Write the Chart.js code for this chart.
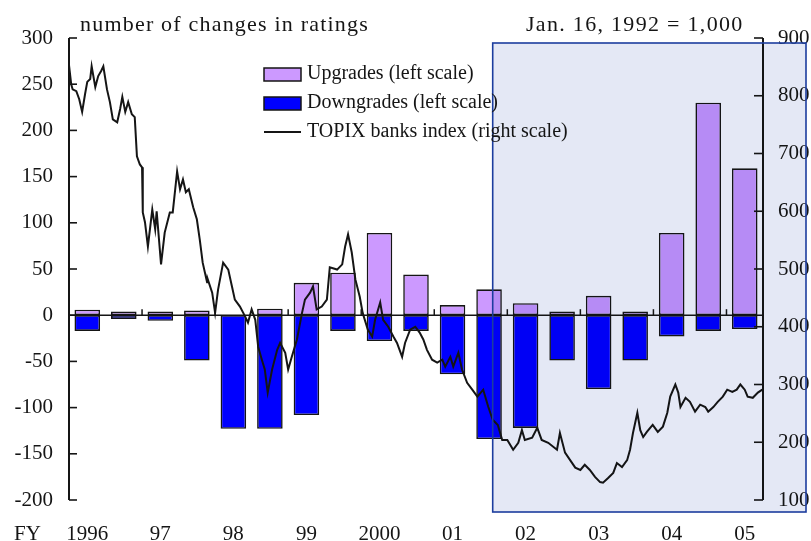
<!DOCTYPE html>
<html>
<head>
<meta charset="utf-8">
<script src="https://cdn.jsdelivr.net/npm/chart.js@4.4.1/dist/chart.umd.min.js"></script>
<style>
  html, body { margin: 0; padding: 0; background: #fff; }
  #wrap { width: 811px; height: 541px; }
</style>
</head>
<body>
<div id="wrap"><canvas id="ratingsChart" width="811" height="541"></canvas></div>
<script>
// half-year periods, FY1996 H1 .. FY2005 H1
const periods = ['1996', '', '97', '', '98', '', '99', '', '2000', '', '01', '', '02', '', '03', '', '04', '', '05'];
const upgrades = [6, 4, 4, 5, 0, 7, 35, 46, 89, 44, 11, 28, 13, 4, 21, 4, 89, 230, 159];
const downgrades = [-17, -4, -6, -49, -123, -123, -108, -17, -28, -17, -64, -134, -122, -49, -80, -49, -23, -17, -15];

// TOPIX banks index (Jan. 16, 1992 = 1,000)
const topixFY = [
  1996.00, 1996.03, 1996.05, 1996.10, 1996.14, 1996.18, 1996.22, 1996.25, 1996.29, 1996.31,
  1996.36, 1996.40, 1996.44, 1996.47, 1996.52, 1996.56, 1996.60, 1996.66, 1996.70, 1996.73,
  1996.77, 1996.81, 1996.86, 1996.90, 1996.93, 1996.97, 1997.00, 1997.01, 1997.04, 1997.08,
  1997.14, 1997.18, 1997.20, 1997.26, 1997.31, 1997.38, 1997.42, 1997.48, 1997.52, 1997.56,
  1997.60, 1997.64, 1997.70, 1997.75, 1997.79, 1997.83, 1997.89, 1997.90, 1997.96, 1998.00,
  1998.04, 1998.11, 1998.18, 1998.23, 1998.27, 1998.34, 1998.41, 1998.45, 1998.50, 1998.55,
  1998.59, 1998.64, 1998.68, 1998.72, 1998.78, 1998.85, 1998.89, 1998.96, 1999.00, 1999.05,
  1999.12, 1999.19, 1999.23, 1999.30, 1999.34, 1999.39, 1999.46, 1999.53, 1999.57, 1999.67,
  1999.74, 1999.78, 1999.82, 1999.87, 1999.92, 1999.98, 2000.02, 2000.09, 2000.15, 2000.19,
  2000.26, 2000.30, 2000.37, 2000.44, 2000.49, 2000.56, 2000.60, 2000.67, 2000.74, 2000.80,
  2000.85, 2000.90, 2000.97, 2001.04, 2001.11, 2001.15, 2001.22, 2001.26, 2001.33, 2001.38,
  2001.45, 2001.52, 2001.59, 2001.67, 2001.74, 2001.80, 2001.87, 2001.93, 2002.00, 2002.08,
  2002.15, 2002.20, 2002.24, 2002.34, 2002.41, 2002.47, 2002.56, 2002.68, 2002.72, 2002.79,
  2002.86, 2002.93, 2003.00, 2003.06, 2003.13, 2003.20, 2003.27, 2003.31, 2003.38, 2003.45,
  2003.50, 2003.57, 2003.64, 2003.68, 2003.72, 2003.78, 2003.82, 2003.86, 2003.91, 2003.99,
  2004.06, 2004.13, 2004.19, 2004.23, 2004.30, 2004.34, 2004.37, 2004.44, 2004.50, 2004.57,
  2004.64, 2004.71, 2004.75, 2004.82, 2004.88, 2004.95, 2005.01, 2005.08, 2005.14, 2005.19,
  2005.25, 2005.29, 2005.36, 2005.43, 2005.49
];
const topixIndex = [
  853, 820, 811, 808, 794, 772, 803, 824, 829, 851,
  815, 834, 843, 851, 811, 789, 759, 754, 777, 798,
  772, 789, 768, 763, 695, 681, 676, 598, 581, 539,
  603, 569, 600, 508, 563, 598, 598, 669, 638, 655,
  633, 638, 607, 586, 551, 511, 477, 482, 459, 424,
  464, 511, 499, 470, 447, 435, 418, 407, 430, 412,
  365, 343, 326, 286, 326, 360, 372, 355, 326, 348,
  378, 424, 447, 459, 470, 430, 435, 447, 503, 499,
  508, 539, 560, 529, 482, 452, 424, 395, 383, 412,
  442, 412, 400, 383, 372, 348, 372, 395, 400, 390,
  378, 360, 343, 338, 343, 331, 348, 331, 355, 326,
  303, 291, 279, 291, 261, 239, 230, 204, 204, 187,
  199, 221, 204, 208, 225, 204, 199, 187, 216, 182,
  169, 156, 152, 161, 152, 140, 131, 130, 138, 147,
  164, 157, 169, 187, 216, 251, 221, 209, 218, 230,
  218, 227, 251, 279, 300, 286, 261, 277, 270, 253,
  265, 261, 253, 261, 270, 279, 291, 287, 291, 300,
  291, 279, 277, 286, 291
];

const leftTicks = { min: -200, max: 300, step: 50 };
const rightTicks = { min: 100, max: 900, step: 100 };
const shadeFrom = 2001.8;

const serif = '"Liberation Serif", "Times New Roman", serif';
const ink = '#151515';
const upColor = '#cc99ff';
const downColor = '#0000ff';

const decor = {
  id: 'decor',
  beforeDraw(chart) {
    const ctx = chart.ctx;
    ctx.save();
    ctx.fillStyle = '#fff';
    ctx.fillRect(0, 0, chart.width, chart.height);
    ctx.restore();
  },
  afterDatasetsDraw(chart) {
    const { ctx, chartArea: a, scales } = chart;
    const x = scales.x, y = scales.y, yr = scales.yr, xl = scales.xl;
    ctx.save();
    ctx.strokeStyle = ink;

    // zero line
    const y0 = y.getPixelForValue(0);
    ctx.lineWidth = 1.6;
    ctx.beginPath();
    ctx.moveTo(a.left, y0);
    ctx.lineTo(a.right, y0);
    ctx.stroke();

    // fiscal year boundary ticks on the zero line
    ctx.lineWidth = 1.5;
    for (let i = 1; i < periods.length - 1; i += 2) {
      const px = (x.getPixelForValue(i) + x.getPixelForValue(i + 1)) / 2;
      ctx.beginPath();
      ctx.moveTo(px, y0);
      ctx.lineTo(px, y0 - 6);
      ctx.stroke();
    }

    // axes with inward ticks
    ctx.lineWidth = 2;
    ctx.beginPath();
    ctx.moveTo(a.left, y.getPixelForValue(leftTicks.max));
    ctx.lineTo(a.left, y.getPixelForValue(leftTicks.min));
    ctx.moveTo(a.right, yr.getPixelForValue(rightTicks.max));
    ctx.lineTo(a.right, yr.getPixelForValue(rightTicks.min));
    ctx.stroke();
    ctx.lineWidth = 1.6;
    y.ticks.forEach(t => {
      const py = y.getPixelForValue(t.value);
      ctx.beginPath();
      ctx.moveTo(a.left, py);
      ctx.lineTo(a.left + 8, py);
      ctx.stroke();
    });
    yr.ticks.forEach(t => {
      const py = yr.getPixelForValue(t.value);
      ctx.beginPath();
      ctx.moveTo(a.right, py);
      ctx.lineTo(a.right - 9, py);
      ctx.stroke();
    });

    // shaded period (multiplied over everything beneath)
    const bx = xl.getPixelForValue(shadeFrom);
    const bt = a.top + 5, bb = a.bottom + 12, br = a.right + 43;
    ctx.globalCompositeOperation = 'multiply';
    ctx.fillStyle = '#e4e8f5';
    ctx.fillRect(bx, bt, br - bx, bb - bt);
    ctx.globalCompositeOperation = 'source-over';
    ctx.strokeStyle = '#1c3d9e';
    ctx.lineWidth = 1.6;
    ctx.strokeRect(bx, bt, br - bx, bb - bt);

    // captions
    ctx.fillStyle = ink;
    ctx.font = '22px ' + serif;
    ctx.textBaseline = 'alphabetic';
    ctx.textAlign = 'left';
    ctx.letterSpacing = '1.2px';
    ctx.fillText('number of changes in ratings', 80, 31);
    ctx.letterSpacing = '1.3px';
    ctx.fillText('Jan. 16, 1992 = 1,000', 526, 31);
    ctx.letterSpacing = '0px';
    ctx.font = '21px ' + serif;
    ctx.fillText('FY', 14, 540);

    // legend
    const ds = chart.data.datasets;
    const lx = 264, rows = [74, 103, 132];
    ctx.font = '20px ' + serif;
    ctx.textBaseline = 'middle';
    ds.forEach((d, i) => {
      const ly = rows[i];
      ctx.strokeStyle = ink;
      if (d.type === 'line') {
        ctx.lineWidth = 1.8;
        ctx.beginPath();
        ctx.moveTo(lx, ly);
        ctx.lineTo(lx + 37, ly);
        ctx.stroke();
      } else {
        ctx.fillStyle = d.backgroundColor;
        ctx.fillRect(lx, ly - 6, 37, 13);
        ctx.lineWidth = 1.5;
        ctx.strokeRect(lx, ly - 6, 37, 13);
      }
      ctx.fillStyle = ink;
      ctx.fillText(d.label, lx + 43, ly);
    });
    ctx.restore();
  }
};

new Chart(document.getElementById('ratingsChart').getContext('2d'), {
  type: 'bar',
  data: {
    labels: periods,
    datasets: [
      {
        type: 'bar',
        label: 'Upgrades (left scale)',
        data: upgrades,
        backgroundColor: upColor,
        borderColor: ink,
        borderWidth: 1.6,
        borderSkipped: false,
        grouped: false,
        barPercentage: 0.7,
        categoryPercentage: 1,
        yAxisID: 'y',
        order: 2
      },
      {
        type: 'bar',
        label: 'Downgrades (left scale)',
        data: downgrades,
        backgroundColor: downColor,
        borderColor: ink,
        borderWidth: 1.6,
        borderSkipped: false,
        grouped: false,
        barPercentage: 0.7,
        categoryPercentage: 1,
        yAxisID: 'y',
        order: 2
      },
      {
        type: 'line',
        label: 'TOPIX banks index (right scale)',
        data: topixFY.map((fy, i) => ({ x: fy, y: topixIndex[i] })),
        xAxisID: 'xl',
        yAxisID: 'yr',
        borderColor: ink,
        borderWidth: 2,
        pointRadius: 0,
        tension: 0,
        order: 1
      }
    ]
  },
  options: {
    responsive: false,
    animation: false,
    layout: { padding: { top: 38, left: 0, right: 0, bottom: 0 } },
    plugins: { legend: { display: false }, tooltip: { enabled: false } },
    scales: {
      x: {
        stacked: true,
        offset: true,
        border: { display: false },
        grid: { display: false, drawTicks: false },
        ticks: {
          autoSkip: false, maxRotation: 0, padding: 22,
          color: ink, font: { family: serif, size: 21 }
        },
        afterFit: s => { s.height = 41; }
      },
      xl: {
        type: 'linear',
        display: false,
        offset: false,
        grid: { offset: false },
        min: 1996,
        max: 2005.5
      },
      y: {
        position: 'left',
        stacked: true,
        min: leftTicks.min,
        max: leftTicks.max,
        border: { display: false },
        grid: { display: false, drawTicks: false },
        ticks: {
          stepSize: leftTicks.step, padding: 16,
          color: ink, font: { family: serif, size: 21 }
        },
        afterFit: s => { s.width = 69; }
      },
      yr: {
        position: 'right',
        min: rightTicks.min,
        max: rightTicks.max,
        border: { display: false },
        grid: { display: false, drawTicks: false },
        ticks: {
          stepSize: rightTicks.step, padding: 15,
          color: ink, font: { family: serif, size: 21 }
        },
        afterFit: s => { s.width = 48; }
      }
    }
  },
  plugins: [decor]
});
</script>
</body>
</html>
